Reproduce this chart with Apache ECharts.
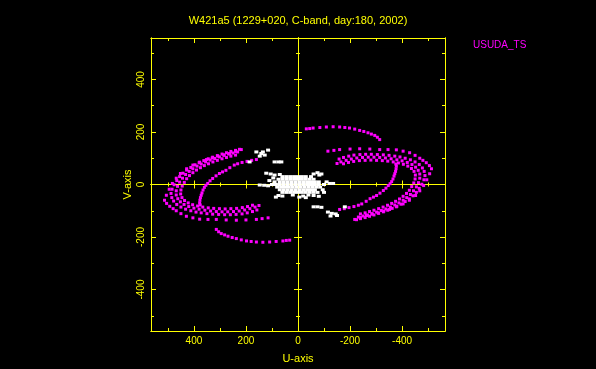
<!DOCTYPE html>
<html>
<head>
<meta charset="utf-8">
<script src="https://cdn.jsdelivr.net/npm/echarts@6/dist/echarts.min.js"></script>
<style>html,body{margin:0;padding:0;background:#000;}#c{width:596px;height:369px;}</style>
</head>
<body>
<div id="c"></div>
<script>
// ---- data (u, v) ----
const titleText = 'W421a5 (1229+020, C-band, day:180, 2002)';
const seriesName = 'USUDA_TS';
const majorTicks = [-400, -200, 0, 200, 400];
const minorTicks = [-500, -300, -100, 100, 300, 500];

// left lobe (u > 0)
const trackOuterL = [[218,133],[240,126],[263,118],[285,113],[308,108],[330,101],[352,95],[378,85],[404,74],[428,60],[452,42],[468,24],[483,4],[495,-18],[506,-41],[513,-60],[505,-72],[493,-83],[480,-92],[468,-100],[450,-111],[429,-121],[404,-127],[378,-132],[346,-133],[314,-133],[276,-135],[237,-136],[200,-135],[160,-133],[138,-130],[115,-127]];
const bandAL = [[225,134],[240,130],[258,126],[275,121],[292,116],[310,110],[328,104],[345,98],[362,91],[380,83],[396,75],[412,65],[428,55],[442,43],[455,30],[466,15],[476,-1],[484,-18],[488,-34],[485,-50],[478,-63],[466,-76],[450,-86],[432,-94],[412,-100],[392,-105],[372,-108],[350,-111],[328,-113],[305,-114],[282,-115],[260,-115],[238,-114],[215,-112],[195,-108],[175,-103],[158,-97]];
const bandBL = [[232,124],[250,120],[267,116],[284,111],[302,105],[320,99],[338,93],[355,86],[372,78],[388,70],[404,60],[418,50],[432,38],[444,24],[455,9],[463,-7],[468,-24],[468,-40],[462,-54],[452,-66],[438,-76],[420,-84],[400,-90],[380,-94],[358,-98],[336,-101],[314,-103],[292,-104],[270,-104],[248,-103],[226,-101],[205,-97],[185,-92],[165,-86],[150,-80]];
const bandCL = [[240,112],[258,108],[275,103],[292,98],[310,92],[327,86],[344,79],[360,72],[375,64],[390,55],[404,45],[417,34],[428,22],[437,8],[445,-6],[450,-21],[451,-36],[446,-50],[436,-61],[422,-70],[405,-77],[386,-82],[366,-86],[345,-89],[324,-91],[302,-92],[280,-93],[258,-92],[236,-91],[214,-88],[194,-84],[175,-79]];
const trackInnerL = [[160,95],[178,92],[196,88],[215,84],[232,79],[245,74],[262,64],[277,54],[290,48],[302,42],[315,33],[328,23],[338,14],[347,4],[354,-3],[360,-11],[365,-21],[369,-32],[372,-41],[375,-50],[377,-60],[378,-70],[376,-78]];
const trackTailL = [[314,-171],[305,-180],[295,-187],[282,-192],[269,-197],[253,-202],[237,-206],[218,-211],[198,-215],[180,-217],[160,-219],[135,-220],[109,-219],[84,-217],[58,-215],[45,-213],[32,-212]];

// right lobe (u < 0)
const trackOuterR = [[-218,-133],[-240,-126],[-263,-118],[-285,-113],[-308,-108],[-330,-101],[-352,-95],[-378,-85],[-404,-74],[-428,-60],[-452,-42],[-468,-24],[-483,-4],[-495,18],[-506,41],[-513,60],[-505,72],[-493,83],[-480,92],[-468,100],[-450,111],[-429,121],[-404,127],[-378,132],[-346,133],[-314,133],[-276,135],[-237,136],[-200,135],[-160,133],[-138,130],[-115,127]];
const bandAR = [[-225,-134],[-240,-130],[-258,-126],[-275,-121],[-292,-116],[-310,-110],[-328,-104],[-345,-98],[-362,-91],[-380,-83],[-396,-75],[-412,-65],[-428,-55],[-442,-43],[-455,-30],[-466,-15],[-476,1],[-484,18],[-488,34],[-485,50],[-478,63],[-466,76],[-450,86],[-432,94],[-412,100],[-392,105],[-372,108],[-350,111],[-328,113],[-305,114],[-282,115],[-260,115],[-238,114],[-215,112],[-195,108],[-175,103],[-158,97]];
const bandBR = [[-232,-124],[-250,-120],[-267,-116],[-284,-111],[-302,-105],[-320,-99],[-338,-93],[-355,-86],[-372,-78],[-388,-70],[-404,-60],[-418,-50],[-432,-38],[-444,-24],[-455,-9],[-463,7],[-468,24],[-468,40],[-462,54],[-452,66],[-438,76],[-420,84],[-400,90],[-380,94],[-358,98],[-336,101],[-314,103],[-292,104],[-270,104],[-248,103],[-226,101],[-205,97],[-185,92],[-165,86],[-150,80]];
const bandCR = [[-240,-112],[-258,-108],[-275,-103],[-292,-98],[-310,-92],[-327,-86],[-344,-79],[-360,-72],[-375,-64],[-390,-55],[-404,-45],[-417,-34],[-428,-22],[-437,-8],[-445,6],[-450,21],[-451,36],[-446,50],[-436,61],[-422,70],[-405,77],[-386,82],[-366,86],[-345,89],[-324,91],[-302,92],[-280,93],[-258,92],[-236,91],[-214,88],[-194,84],[-175,79]];
const trackInnerR = [[-160,-95],[-178,-92],[-196,-88],[-215,-84],[-232,-79],[-245,-74],[-262,-64],[-277,-54],[-290,-48],[-302,-42],[-315,-33],[-328,-23],[-338,-14],[-347,-4],[-354,3],[-360,11],[-365,21],[-369,32],[-372,41],[-375,50],[-377,60],[-378,70],[-376,78]];
const trackTailR = [[-314,171],[-305,180],[-295,187],[-282,192],[-269,197],[-253,202],[-237,206],[-218,211],[-198,215],[-180,217],[-160,219],[-135,220],[-109,219],[-84,217],[-58,215],[-45,213],[-32,212]];

// short baselines (white)
const shortCore = [
 [60,30],[45,30],[30,30],[15,30],[0,30],[-15,30],[-30,30],[-50,30],
 [75,20],[60,20],[45,20],[30,20],[15,20],[0,20],[-15,20],[-30,20],[-45,20],[-60,20],
 [90,10],[70,10],[55,10],[40,10],[25,10],[10,10],[-5,10],[-20,10],[-35,10],[-50,10],[-65,10],[-80,10],
 [100,0],[85,0],[70,0],[55,0],[40,0],[25,0],[10,0],[-5,0],[-20,0],[-35,0],[-50,0],[-65,0],[-80,0],[-100,0],
 [80,-10],[65,-10],[50,-10],[35,-10],[20,-10],[5,-10],[-10,-10],[-25,-10],[-40,-10],[-55,-10],[-70,-10],[-85,-10],
 [70,-20],[55,-20],[40,-20],[25,-20],[10,-20],[-5,-20],[-20,-20],[-35,-20],[-50,-20],[-65,-20],
 [60,-30],[45,-30],[30,-30],[15,-30],[0,-30],[-15,-30],[-30,-30],[-45,-30],[-60,-30],[-75,-30],
 [75,-42],[60,-44],[20,-40],[-20,-44],[-40,-40],[-60,-42],[-80,-45]
];
const shortOuter = [
 [122,43],[105,40],[90,36],[70,38],[-75,45],[-90,40],[-82,36],[-60,40],[130,-3],[115,-5],[147,-2],[-122,4],[-135,4],
 [-95,-20],[-100,-30],[95,25],[110,15],[-30,-50],[-5,-48],[85,-48],[-110,10],
 [-60,-85],[-75,-85],[-90,-87],[-180,-85],[-115,-105],[-130,-110],[-145,-112],[-125,-120],[-150,-118],
 [160,124],[141,118],[128,112],[147,108],[115,131],[135,124],[186,86],[90,86],[75,86],[64,86]
];

const usudaData = [].concat(trackOuterL, bandAL, bandBL, bandCL, trackInnerL, trackTailL,
                            trackOuterR, bandAR, bandBR, bandCR, trackInnerR, trackTailR);
const shortData = [].concat(shortCore, shortOuter);

// ---- styling ----
const YEL = '#ffff00';
const MAG = '#ff00ff';
const FONT = 'Liberation Sans';
const X_MIN = -565, X_MAX = 565, Y_MIN = -558, Y_MAX = 558;

function mkAxis(dim, position, onZero, values, len, main) {
  const ax = {
    type: 'value',
    min: dim === 'x' ? X_MIN : Y_MIN,
    max: dim === 'x' ? X_MAX : Y_MAX,
    inverse: dim === 'x',
    position: position,
    splitLine: { show: false },
    axisLine: { show: true, onZero: onZero, onZeroAxisIndex: 0, lineStyle: { color: YEL, width: 1 } },
    axisTick: { show: true, inside: true, length: len, customValues: values, lineStyle: { color: YEL, width: 1 } },
    axisLabel: { show: false }
  };
  if (main) {
    ax.axisLabel = {
      show: true, customValues: majorTicks, color: YEL, fontSize: 10, fontFamily: FONT,
      margin: 5, rotate: dim === 'y' ? 90 : 0
    };
    ax.name = dim === 'x' ? 'U-axis' : 'V-axis';
    ax.nameLocation = 'middle';
    ax.nameGap = dim === 'x' ? 22 : 18;
    ax.nameTextStyle = { color: YEL, fontSize: 11, fontFamily: FONT };
  }
  return ax;
}

const xAxes = [
  mkAxis('x', 'bottom', false, majorTicks, 5, true),
  mkAxis('x', 'bottom', false, minorTicks, 3, false),
  mkAxis('x', 'top', false, majorTicks, 5, false),
  mkAxis('x', 'top', false, minorTicks, 3, false),
  mkAxis('x', 'bottom', true, majorTicks, 4, false),
  mkAxis('x', 'top', true, majorTicks, 4, false),
  mkAxis('x', 'bottom', true, minorTicks, 2, false),
  mkAxis('x', 'top', true, minorTicks, 2, false)
];
const yAxes = [
  mkAxis('y', 'left', false, majorTicks, 5, true),
  mkAxis('y', 'left', false, minorTicks, 3, false),
  mkAxis('y', 'right', false, majorTicks, 5, false),
  mkAxis('y', 'right', false, minorTicks, 3, false),
  mkAxis('y', 'left', true, majorTicks, 4, false),
  mkAxis('y', 'right', true, majorTicks, 4, false),
  mkAxis('y', 'left', true, minorTicks, 2, false),
  mkAxis('y', 'right', true, minorTicks, 2, false)
];

const chart = echarts.init(document.getElementById('c'), null, { renderer: 'canvas' });
chart.setOption({
  backgroundColor: '#000000',
  animation: false,
  title: {
    text: titleText, left: 'center', top: 10,
    textStyle: { color: YEL, fontSize: 11, fontWeight: 'normal', fontFamily: FONT }
  },
  legend: {
    data: [seriesName], left: 463, top: 35, itemWidth: 0, itemHeight: 0, itemGap: 0,
    textStyle: { color: MAG, fontSize: 10, fontFamily: FONT }
  },
  grid: { left: 151, top: 38, width: 294, height: 293 },
  xAxis: xAxes,
  yAxis: yAxes,
  series: [
    {
      name: seriesName, type: 'scatter', xAxisIndex: 0, yAxisIndex: 0,
      symbol: 'rect', symbolSize: 3, itemStyle: { color: MAG, opacity: 1 }, data: usudaData, z: 3
    },
    {
      name: '', type: 'scatter', xAxisIndex: 0, yAxisIndex: 0,
      symbol: 'rect', symbolSize: [4, 3], itemStyle: { color: '#ffffff', opacity: 1 }, data: shortData, z: 4
    }
  ]
});
</script>
</body>
</html>
